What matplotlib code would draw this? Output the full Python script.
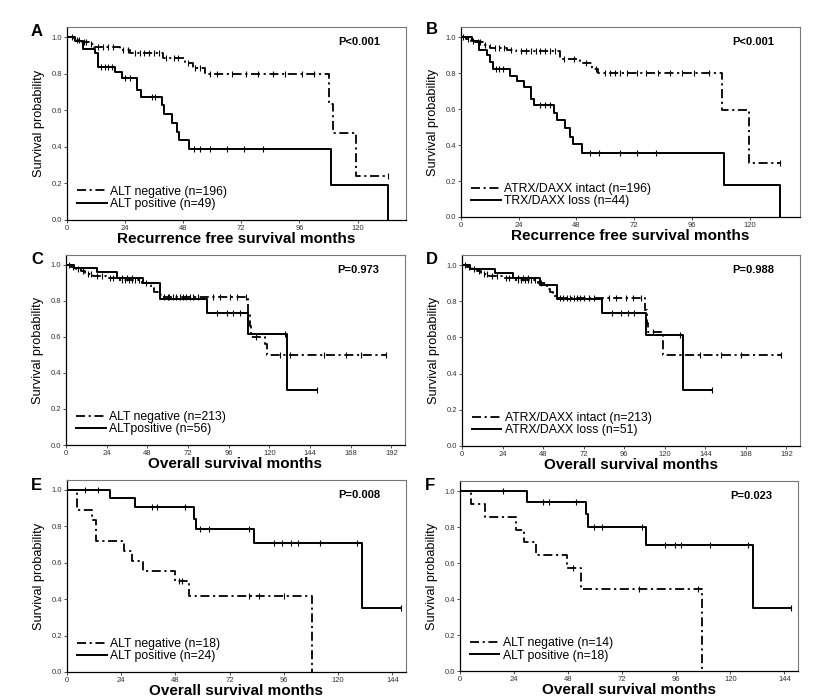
import numpy as np
import matplotlib
matplotlib.use("Agg")
import matplotlib.pyplot as plt

plt.rcParams["font.family"] = ["Liberation Sans", "DejaVu Sans"]

# ---- data (event times in months, survival after each event) ----
# A: recurrence free survival, ALT
a_neg_t = [3, 6, 9, 11, 21.7, 26, 39.7, 48.8, 52, 57, 108, 110, 119.3]
a_neg_s = [0.985, 0.975, 0.96, 0.944, 0.93, 0.91, 0.883, 0.856, 0.83, 0.796, 0.636, 0.476, 0.238]
a_neg_end = 132.4
a_neg_cens = [2, 4, 5, 7, 8, 10, 13, 15, 17, 19, 23, 25, 28, 30, 32, 34, 36, 38, 41, 44, 46,
              50, 53, 55, 59, 62, 68, 74, 79, 85, 90, 97, 102, 132.4]
a_pos_t = [3.3, 6.8, 11.6, 12.7, 19.9, 22.6, 29.1, 30.5, 39.2, 40.0, 43.4, 45.3, 46.2, 50.3, 109.0, 132.4]
a_pos_s = [0.979, 0.936, 0.91, 0.838, 0.81, 0.776, 0.71, 0.672, 0.63, 0.58, 0.53, 0.48, 0.435, 0.386, 0.193, 0.0]
a_pos_end = 132.4
a_pos_cens = [14, 15.5, 17, 18.5, 24, 26, 35, 36.5, 52.4, 55, 59, 66, 73, 81]

# B: recurrence free survival, ATRX/DAXX
b_neg_t = [2, 4, 6, 9, 12, 19, 23, 41, 49.6, 54.5, 57, 108.5, 119.6]
b_neg_s = [0.99, 0.98, 0.97, 0.955, 0.94, 0.93, 0.92, 0.88, 0.855, 0.825, 0.798, 0.597, 0.298]
b_neg_end = 132.7
b_neg_cens = [1, 3, 5, 7, 8, 10, 14, 16, 18, 21, 25, 27, 29, 31, 33, 35, 37, 39, 43, 47, 52, 56,
              60, 62, 64, 66, 69, 73, 77, 82, 87, 92, 97, 103, 132.7]
b_pos_t = [4.6, 7.3, 10.8, 12, 13.3, 20.5, 23.3, 26.0, 29.0, 30.5, 38.8, 40.0, 43.4, 45.2, 46.6, 50.3, 109.2, 132.5]
b_pos_s = [0.977, 0.93, 0.90, 0.86, 0.82, 0.785, 0.754, 0.724, 0.656, 0.62, 0.577, 0.54, 0.496, 0.445,
           0.403, 0.358, 0.18, 0.0]
b_pos_end = 132.5
b_pos_cens = [14.5, 16, 17.5, 33, 35, 37, 53.5, 57.5, 66, 73, 81]

# C: overall survival, ALT
c_neg_t = [3, 6, 9, 11, 16, 24, 30, 45, 50, 52, 54, 56, 107.6, 108.3, 109, 117.4, 118.4]
c_neg_s = [0.99, 0.98, 0.965, 0.948, 0.94, 0.93, 0.915, 0.90, 0.87, 0.85, 0.835, 0.821, 0.72, 0.66,
           0.60, 0.56, 0.502]
c_neg_end = 189
c_neg_cens = [2, 4, 7, 10, 13, 15, 18, 21, 26, 28, 33, 35, 37, 39, 41, 43, 47, 58, 60, 61, 63, 65,
              67, 69, 71, 73, 75, 78, 87, 91, 97, 101, 106, 112, 126, 132, 152, 165, 174, 189]
c_pos_t = [5, 18.3, 30, 45.5, 55.4, 83, 107.6, 130.5]
c_pos_s = [0.982, 0.961, 0.93, 0.9, 0.812, 0.734, 0.614, 0.307]
c_pos_end = 147.8
c_pos_cens = [33, 36, 39, 89, 95, 98.7, 102.6, 129, 147.8]

# D: overall survival, ATRX/DAXX
d_neg_t = [3, 6, 9, 11, 16, 24, 30, 45, 50, 52, 54, 56, 108.5, 109.2, 110, 118.8]
d_neg_s = [0.99, 0.98, 0.965, 0.95, 0.94, 0.93, 0.915, 0.90, 0.87, 0.85, 0.83, 0.816, 0.75, 0.68,
           0.63, 0.505]
d_neg_end = 188.6
d_neg_cens = [2, 4, 7, 10, 13, 15, 18, 21, 26, 28, 33, 35, 37, 39, 41, 43, 47, 58, 60, 62, 64, 66,
              68, 70, 72, 75, 78, 87, 91, 97, 101, 106, 113, 131, 141, 153, 165, 188.6]
d_pos_t = [5, 19.4, 30, 46, 56, 82.7, 109, 130.8]
d_pos_s = [0.98, 0.955, 0.926, 0.89, 0.8125, 0.735, 0.616, 0.31]
d_pos_end = 148
d_pos_cens = [33, 36, 39, 89, 94, 98, 102, 129, 148]

# E: overall survival, ALT subgroup
e_neg_t = [4.6, 10.9, 12.8, 25, 28.7, 33.8, 47.9, 53.8, 108.5]
e_neg_s = [0.889, 0.833, 0.722, 0.667, 0.611, 0.556, 0.5, 0.417, 0.0]
e_neg_end = 108.5
e_neg_cens = [49.5, 51, 80.5, 85, 96]
e_pos_t = [19.2, 30.3, 56.1, 56.9, 82.7, 130.7]
e_pos_s = [0.955, 0.909, 0.84, 0.786, 0.707, 0.354]
e_pos_end = 147.7
e_pos_cens = [8, 13.9, 37.7, 39.9, 52.4, 59, 62.8, 80.5, 91.6, 95.3, 99, 102, 112, 128.5, 147.7]

# F: overall survival, ALT subgroup
f_neg_t = [5.1, 11, 24.7, 28.6, 33.8, 47.7, 53.6, 107.3]
f_neg_s = [0.929, 0.857, 0.786, 0.714, 0.643, 0.571, 0.457, 0.0]
f_neg_end = 107.3
f_neg_cens = [50, 79.3, 105.8]
f_pos_t = [29.7, 55.8, 56.9, 82.6, 130]
f_pos_s = [0.94, 0.87, 0.80, 0.698, 0.349]
f_pos_end = 147
f_pos_cens = [19.1, 36.7, 39.7, 51.4, 59.5, 63.2, 80.8, 91, 95.5, 98.1, 111, 127.8, 147]

panels = [
    ("A", a_neg_t, a_neg_s, a_neg_end, a_neg_cens, a_pos_t, a_pos_s, a_pos_end, a_pos_cens,
     "ALT negative (n=196)", "ALT positive (n=49)", "P<0.001", "Recurrence free survival months", 140, 120),
    ("B", b_neg_t, b_neg_s, b_neg_end, b_neg_cens, b_pos_t, b_pos_s, b_pos_end, b_pos_cens,
     "ATRX/DAXX intact (n=196)", "TRX/DAXX loss (n=44)", "P<0.001", "Recurrence free survival months", 141, 120),
    ("C", c_neg_t, c_neg_s, c_neg_end, c_neg_cens, c_pos_t, c_pos_s, c_pos_end, c_pos_cens,
     "ALT negative (n=213)", "ALTpositive (n=56)", "P=0.973", "Overall survival months", 200, 192),
    ("D", d_neg_t, d_neg_s, d_neg_end, d_neg_cens, d_pos_t, d_pos_s, d_pos_end, d_pos_cens,
     "ATRX/DAXX intact (n=213)", "ATRX/DAXX loss (n=51)", "P=0.988", "Overall survival months", 200, 192),
    ("E", e_neg_t, e_neg_s, e_neg_end, e_neg_cens, e_pos_t, e_pos_s, e_pos_end, e_pos_cens,
     "ALT negative (n=18)", "ALT positive (n=24)", "P=0.008", "Overall survival months", 150, 144),
    ("F", f_neg_t, f_neg_s, f_neg_end, f_neg_cens, f_pos_t, f_pos_s, f_pos_end, f_pos_cens,
     "ALT negative (n=14)", "ALT positive (n=18)", "P=0.023", "Overall survival months", 150, 144),
]

# axes boxes in pixels: left, right, top, bottom
W, H = 825, 698
boxes = [
    (67, 406, 27, 220), (461, 800, 27, 217),
    (66, 405, 255, 445), (462, 800, 255, 446),
    (67, 406, 480, 672), (460, 798, 481, 671),
]
letter_pos = [(31, 31), (426, 30), (31, 260), (426, 260), (31, 485), (425, 485)]

DASHDOT = (0, (5, 2, 1.2, 2))


def km_draw(ax, t, s, end, cens, ls, lw):
    x = [0] + list(t) + [end]
    y = [1.0] + list(s) + [s[-1]]
    line, = ax.step(x, y, where="post", color="black", lw=lw, linestyle=ls)
    # censor marks sit on the step curve
    tt = np.array([0] + list(t))
    ss = np.array([1.0] + list(s))
    cy = [ss[np.searchsorted(tt, c, side="right") - 1] for c in cens]
    ax.plot(cens, cy, linestyle="none", marker="|", ms=4, mew=0.8, color="black")
    return line


fig = plt.figure(figsize=(W / 100, H / 100), dpi=100)

for (lab, nt, ns, ne, nc, pt, ps, pe, pc, lneg, lpos, pval, xlab, xmax, xtmax), box, lp in zip(
        panels, boxes, letter_pos):
    l, r, t_, b = box
    ax = fig.add_axes([l / W, 1 - b / H, (r - l) / W, (b - t_) / H])
    h1 = km_draw(ax, nt, ns, ne, nc, DASHDOT, 1.3)
    h2 = km_draw(ax, pt, ps, pe, pc, "-", 1.4)

    top = 1 + 10 / (b - t_ - 10)
    ax.set_ylim(0, top)
    ax.set_xlim(0, xmax)
    ax.set_yticks(np.arange(0, 1.01, 0.2))
    ax.set_yticklabels([f"{v:.1f}" for v in np.arange(0, 1.01, 0.2)])
    ax.set_xticks(np.arange(0, xtmax + 1, 24))
    ax.tick_params(labelsize=5.5, length=2.5, width=0.6, pad=1, colors="#333333")
    for side in ("top", "right"):
        ax.spines[side].set_color("#777777")
        ax.spines[side].set_linewidth(0.8)
    for side in ("left", "bottom"):
        ax.spines[side].set_linewidth(0.9)

    ax.set_ylabel("Survival probability", fontsize=9.2, labelpad=5)
    ax.set_xlabel(xlab, fontsize=11, fontweight="bold", labelpad=0)
    ax.text(0.80, 0.92, pval, transform=ax.transAxes, fontsize=8, fontweight="bold",
            ha="left", va="center")
    ax.legend([h1, h2], [lneg, lpos], loc="lower left", bbox_to_anchor=(0.03, 0.05),
              frameon=False, fontsize=8.8, handlelength=2.4, handletextpad=0.3,
              labelspacing=0.05, borderaxespad=0, borderpad=0)
    fig.text(lp[0] / W, 1 - lp[1] / H, lab, fontsize=12, fontweight="bold",
             ha="left", va="center")

fig.savefig("out.png", dpi=100)
